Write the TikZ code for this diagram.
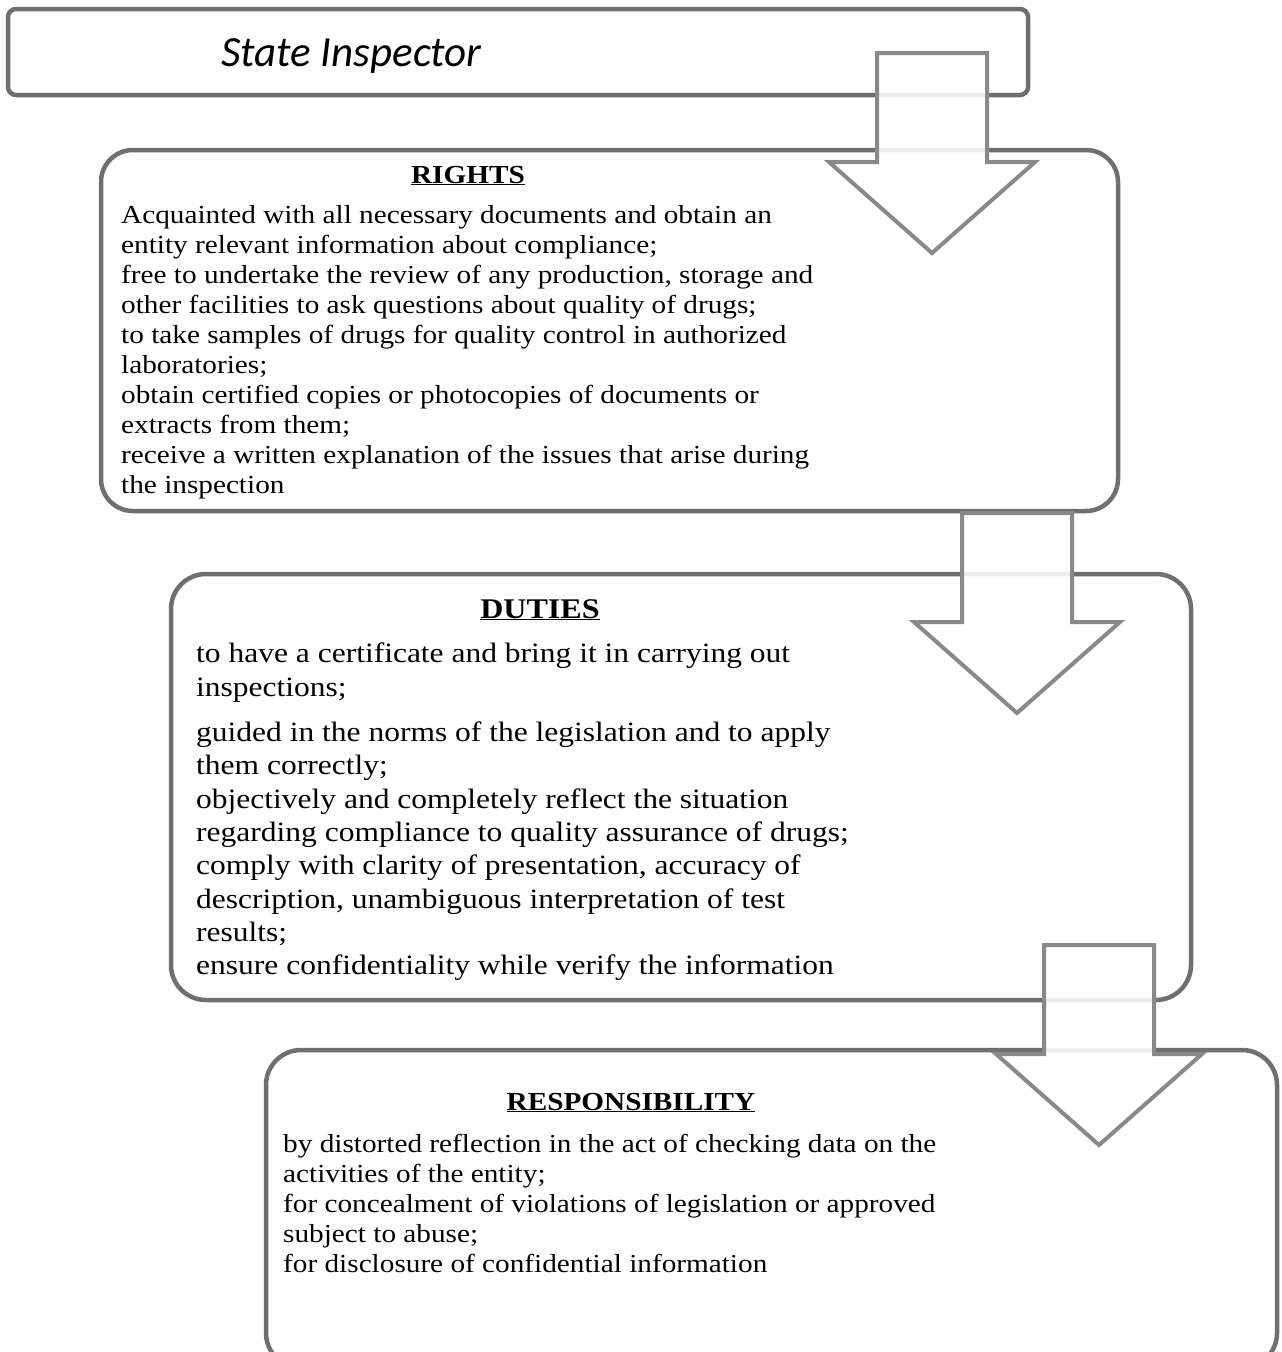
\documentclass[tikz,border=0pt]{standalone}
\usepackage{fontspec}
\setmainfont{Liberation Serif}[FakeStretch=1.125]
\newfontfamily\titlefont{Carlito}
\usepackage{tikz}
\usetikzlibrary{positioning}
\definecolor{panelgray}{HTML}{6F6F6F}
\definecolor{arrowgray}{HTML}{898989}
\tikzset{
	panel/.style={draw=panelgray, line width=4.5pt, rounded corners=#1,
		anchor=north west, inner sep=0pt, outer sep=0pt},
	panel size/.style 2 args={minimum width=#1, minimum height=#2},
	heading/.style={anchor=base, inner sep=0pt,
		font=\fontsize{#1}{#1}\selectfont\bfseries},
	body/.style 2 args={anchor=north west, inner sep=0pt, align=left,
		font=\fontsize{#1}{#2}\selectfont},
	% hollow down arrow, drawn from the middle of the top of its shaft
	pics/blockdown/.style={code={
		\draw[draw=arrowgray, line width=4pt, fill=white, fill opacity=.88, miter limit=20]
			(-55,0) -- (55,0) -- (55,109) -- (103,109) -- (0,200)
			-- (-103,109) -- (-55,109) -- cycle;
	}}
}

\begin{document}
\begin{tikzpicture}[x=1pt, y=-1pt]
	\useasboundingbox (0,0) rectangle (1282,1352);

	\node[panel=8pt, panel size={1020}{86}] (inspector) at (8,9) {};
	\node[panel=32pt, panel size={1017}{361}] (rights) at (101,150) {};
	\node[panel=35pt, panel size={1020}{426}] (duties) at (171,574) {};
	\node[panel=35pt, panel size={1011}{318}] (resp) at (266,1050) {};

	\node[anchor=base west, inner sep=0pt, font=\titlefont\itshape\fontsize{43}{43}\selectfont]
		(inspectorname) at (221,66) {State Inspector};

	\node[heading=26] (rightshead) at (468,183) {\underline{RIGHTS}};
	\node[body={26}{30}] (rightstext) at (121,205) {%
		Acquainted with all necessary documents and obtain an\\
		entity relevant information about compliance;\\
		free to undertake the review of any production, storage and\\
		other facilities to ask questions about quality of drugs;\\
		to take samples of drugs for quality control in authorized\\
		laboratories;\\
		obtain certified copies or photocopies of documents or\\
		extracts from them;\\
		receive a written explanation of the issues that arise during\\
		the inspection};

	\node[heading=28.5] (dutieshead) at (540,618) {\underline{DUTIES}};
	\node[body={28}{33.3}] (dutiestext) at (196,643) {%
		to have a certificate and bring it in carrying out\\
		inspections;\\[12pt]
		guided in the norms of the legislation and to apply\\
		them correctly;\\
		objectively and completely reflect the situation\\
		regarding compliance to quality assurance of drugs;\\
		comply with clarity of presentation, accuracy of\\
		description, unambiguous interpretation of test\\
		results;\\
		ensure confidentiality while verify the information};

	\node[heading=26] (resphead) at (631,1110) {\underline{RESPONSIBILITY}};
	\node[body={26}{30}] (resptext) at (283,1134) {%
		by distorted reflection in the act of checking data on the\\
		activities of the entity;\\
		for concealment of violations of legislation or approved\\
		subject to abuse;\\
		for disclosure of confidential information};

	% arrows lie over the panel borders
	\pic (arrowone) at (932,53) {blockdown};
	\pic (arrowtwo) at (1017,513) {blockdown};
	\pic (arrowthree) at (1099,945) {blockdown};
\end{tikzpicture}
\end{document}
